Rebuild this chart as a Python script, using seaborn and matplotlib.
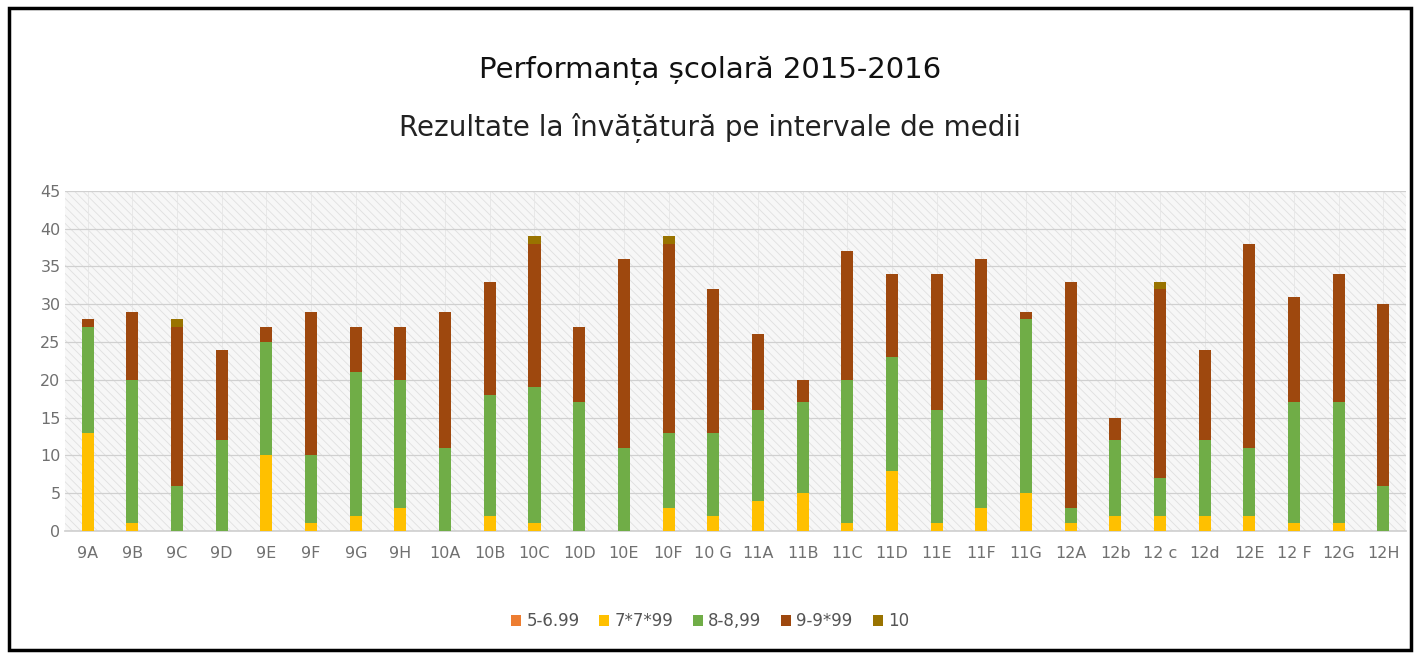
import numpy as np
import pandas as pd
import seaborn as sns
import matplotlib.pyplot as plt
from matplotlib.patches import Rectangle, Patch

# ---- data ----
classes = ["9A", "9B", "9C", "9D", "9E", "9F", "9G", "9H",
           "10A", "10B", "10C", "10D", "10E", "10F", "10 G",
           "11A", "11B", "11C", "11D", "11E", "11F", "11G",
           "12A", "12b", "12 c", "12d", "12E", "12 F", "12G", "12H"]
s_5_699 = [0] * 30
s_7_799 = [13, 1, 0, 0, 10, 1, 2, 3,
           0, 2, 1, 0, 0, 3, 2,
           4, 5, 1, 8, 1, 3, 5,
           1, 2, 2, 2, 2, 1, 1, 0]
s_8_899 = [14, 19, 6, 12, 15, 9, 19, 17,
           11, 16, 18, 17, 11, 10, 11,
           12, 12, 19, 15, 15, 17, 23,
           2, 10, 5, 10, 9, 16, 16, 6]
s_9_999 = [1, 9, 21, 12, 2, 19, 6, 7,
           18, 15, 19, 10, 25, 25, 19,
           10, 3, 17, 11, 18, 16, 1,
           30, 3, 25, 12, 27, 14, 17, 24]
s_10 = [0, 0, 1, 0, 0, 0, 0, 0,
        0, 0, 1, 0, 0, 1, 0,
        0, 0, 0, 0, 0, 0, 0,
        0, 0, 1, 0, 0, 0, 0, 0]

series_names = ["5-6.99", "7*7*99", "8-8,99", "9-9*99", "10"]
series_colors = ["#ED7D31", "#FFC000", "#70AD47", "#9E480E", "#997300"]

sns.set_theme(style="white")
plt.rcParams["font.family"] = ["DejaVu Sans"]
plt.rcParams["hatch.linewidth"] = 0.6

fig = plt.figure(figsize=(14.2, 6.58), dpi=100)
ax = fig.add_axes([0.046, 0.193, 0.944, 0.517])

# patterned plot background like the Excel original
ax.set_facecolor("#f7f7f7")
bg = Rectangle((0, 0), 1, 1, transform=ax.transAxes, facecolor="none",
               edgecolor="#e0e0e0", hatch="\\\\\\\\", linewidth=0, zorder=0)
ax.add_patch(bg)

# stacked bars: draw cumulative totals from the top segment down
stack = np.array([s_5_699, s_7_799, s_8_899, s_9_999, s_10])
cum = stack.cumsum(axis=0)
for i in range(len(series_names) - 1, -1, -1):
    df = pd.DataFrame({"cls": classes, "val": cum[i]})
    sns.barplot(data=df, x="cls", y="val", color=series_colors[i],
                width=0.27, saturation=1, linewidth=0, ax=ax, zorder=3)

ax.set_ylim(0, 45)
ax.set_yticks(range(0, 46, 5))
ax.set_xlim(-0.5, len(classes) - 0.5)
ax.set_xlabel("")
ax.set_ylabel("")
ax.yaxis.grid(True, color="#d0d0d0", linewidth=0.9, zorder=1)
ax.xaxis.grid(True, color="#e6e6e6", linewidth=0.6, zorder=1)
ax.set_axisbelow(True)
for sp in ["top", "right", "left"]:
    ax.spines[sp].set_visible(False)
ax.spines["bottom"].set_color("#d0d0d0")
ax.tick_params(axis="both", colors="#707070", labelsize=11.5, length=0)
ax.tick_params(axis="x", pad=11)

# titles
fig.text(0.5, 0.893, "Performanța școlară 2015-2016", ha="center", va="center",
         fontsize=21, color="#111111")
fig.text(0.5, 0.805, "Rezultate la învățătură pe intervale de medii",
         ha="center", va="center", fontsize=20, color="#222222")

# legend
handles = [Patch(facecolor=c, edgecolor="none") for c in series_colors]
fig.legend(handles, series_names, loc="center", bbox_to_anchor=(0.5, 0.056),
           ncol=5, frameon=False, fontsize=12, handlelength=0.6,
           handleheight=0.6, handletextpad=0.3, columnspacing=1.2,
           labelcolor="#555555")

# outer frame
fig.patches.append(Rectangle((0.006, 0.012), 0.988, 0.976, transform=fig.transFigure,
                             fill=False, edgecolor="black", linewidth=2.5))

fig.savefig("out.png", dpi=100, facecolor="white")
